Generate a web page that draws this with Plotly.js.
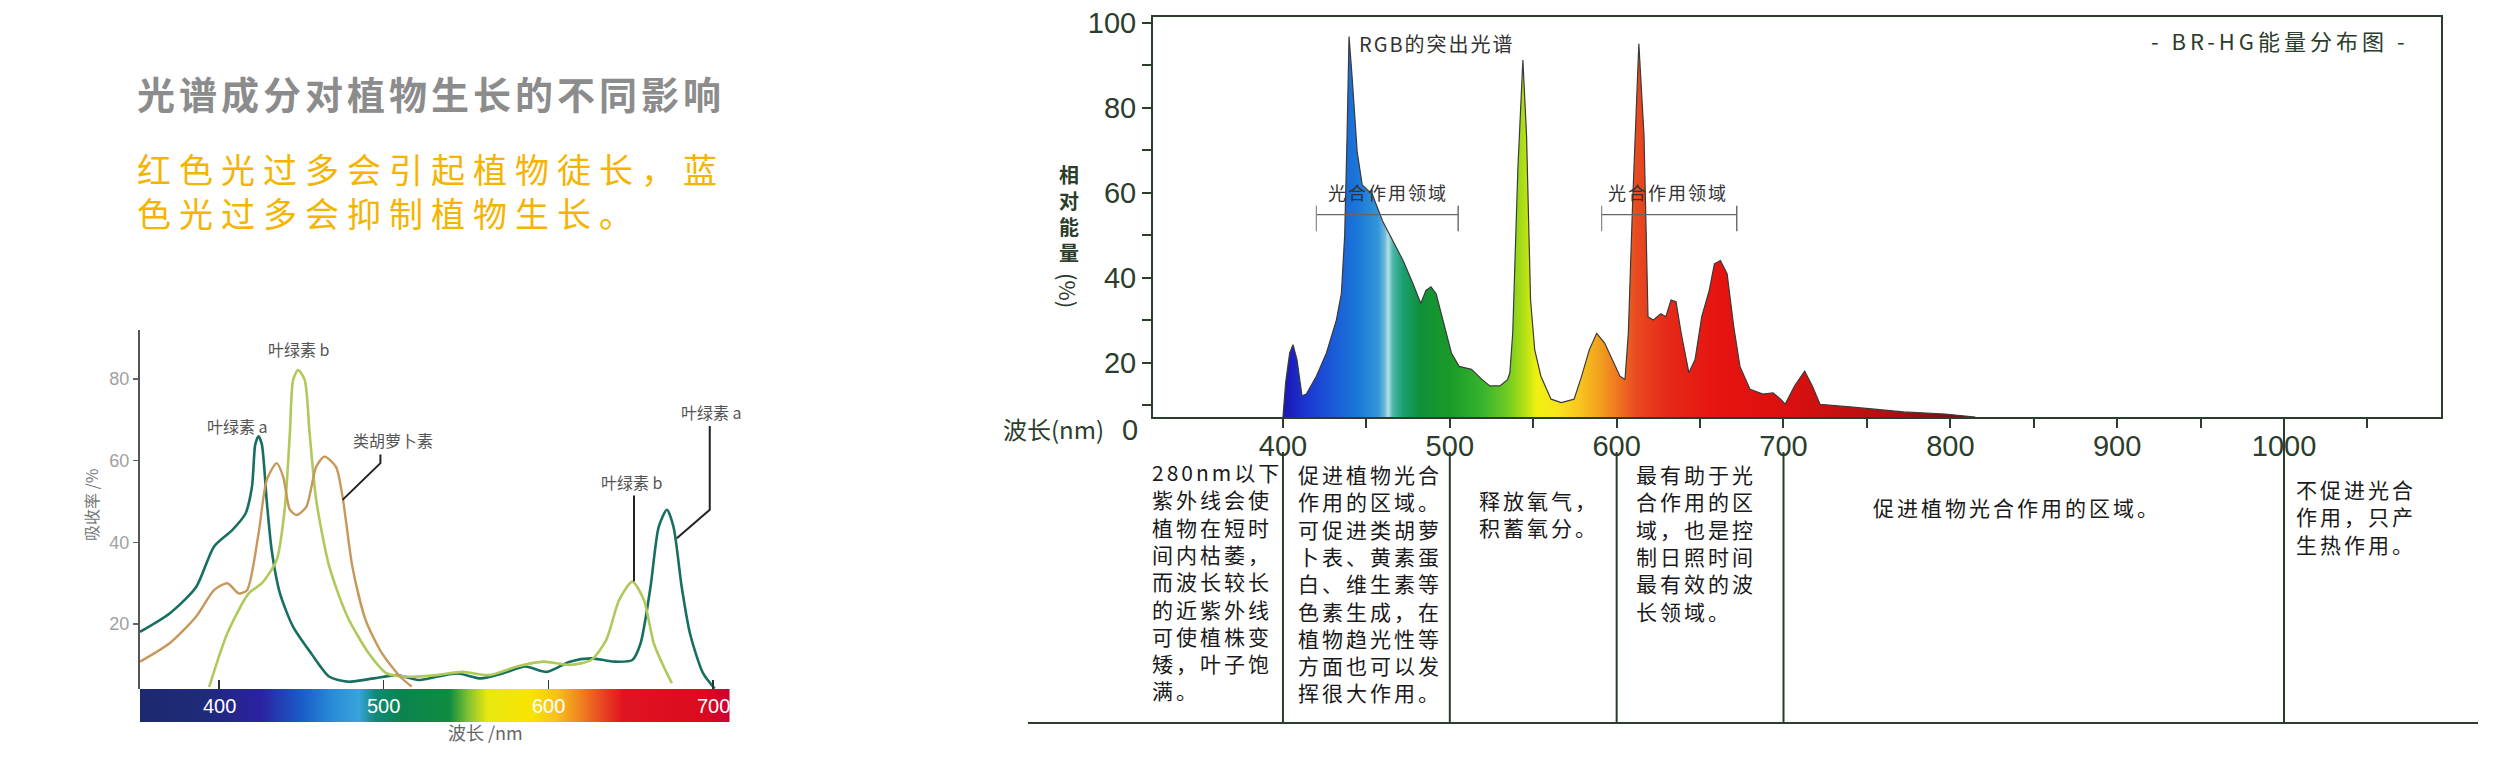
<!DOCTYPE html>
<html>
<head>
<meta charset="utf-8">
<script src="https://cdn.plot.ly/plotly-3.0.1.min.js"></script>
<style>
html,body{margin:0;padding:0;background:#fff;}
#chart{width:2500px;height:776px;}
</style>
</head>
<body>
<div id="chart"></div>
<script>
// ---------------- DATA ----------------
// Left chart: absorption spectra (wavelength nm, absorbance %)
const chlA_nm  = [352,370,386,397,408,416,420,422,424,426,429,432,437,445,456,467,478,494,508,521,532,545,559,572,586,599,613,626,640,651,656,662,667,672,676,681,686,694,701];
const chlA_val = [18.1,22.6,29,39,43,47,53.6,64,66,64,50,38,27.5,19.3,12.8,7.1,5.9,6.7,7.5,6.3,7.1,7.9,6.7,7.9,9.6,8.3,10.8,11.6,10.8,11.2,15.3,29,43.8,48,43.8,29,17.7,7.9,4.2];

const chlB_nm  = [394,405,418,426,435,440,443,445,448,452,455,459,467,478,491,502,516,532,548,564,581,597,613,626,635,643,651,658,664,670,675];
const chlB_val = [4.6,17.7,27.5,30,35.7,48.7,66.7,79.8,82.2,79.8,66.7,50.4,34,21.8,12.8,7.9,7.1,7.5,8.3,7.5,9.6,10.8,10,11.2,16,25.9,30.4,25.9,15.3,9.6,5.5];

const carot_nm  = [352,370,386,397,405,412,417,424,429,435,439,443,447,453,459,464,471,475,481,489,499,510,517];
const carot_val = [10.8,15.3,21.8,28.3,30,27.5,28.3,42.2,55.3,59.4,56,48,46.7,48.7,58.5,61,58.5,51.2,34,21,12.8,7.1,4.7];

const leftYTicks = [20,40,60,80];
const leftBarLabels = [400,500,600,700];
const barNm     = [352,391,425,450,470,485,495,510,540,552,563,590,605,618,632,645,694,710];
const barColors = ['#1b2a6e','#1f2a7a','#2a22a0','#1a5cc8','#2a8ed8','#3aa2dc','#108a78','#0a8450','#0e8c40','#88c430','#e8e810','#f8e400','#f8c020','#f08a20','#e84a20','#e01420','#dc0a20','#cc0030'];

// Right chart: BR-HG relative energy distribution
const spec_nm  = [400,401.6,404,406,408.4,411.4,414,420,426,432,435,437,438.4,439.6,441.4,444.5,447.5,453.6,459.7,465.8,472,478,482.6,485.7,488.7,491.8,496,501,505.6,513,519.4,524,530,534.6,536,537.7,540.8,543.8,546,548.4,550.9,554.6,560.7,566.8,574.5,579,583.6,588,592.8,597.4,602,605,607,609.6,613.3,616.4,618.8,622,626.5,629.5,632.6,635.6,638.7,643.3,647,651,655.5,658.6,662.2,666.2,670.2,673.9,680,687.7,693.7,698.3,701,706.6,712.7,717.3,721.9,741.7,772,796.8,815];
const spec_val = [7.2,15.3,22.2,24.2,20.7,12.2,12.6,16.8,22.2,30,36.2,50,73,96.7,87.4,69.5,61.8,59.5,53.3,48.6,44,38.5,33.9,37,37.8,36.2,30,22.2,19.1,18.4,16,14.5,14.5,16,17.6,26.9,65.7,91.2,73.4,34.7,23,16.8,11.4,10.6,11.4,16.8,23,26.9,24.6,20.7,16.8,16,26.9,57.9,95,73.4,30.8,30,31.5,30.8,34.7,34.3,26.9,17.6,20.7,30.8,37,43.2,44,40.9,28.4,19.1,13.7,12.6,12.9,11.4,10.2,14.5,18,14.5,10.2,9.5,8.4,7.9,7.2];

const gradNm     = [400,415,430,445,457,461,463,466,472,482,500,520,535,545,552,565,578,590,600,612,630,660,700,760,820];
const gradColors = ['#1c14b4','#1a3ad2','#1a5ad8','#1a78d8','#3296d8','#6ab8dc','#b4e0e6','#4ab4a8','#1aa070','#10903a','#1a9a28','#38b42e','#72cc22','#b4e014','#f0f010','#f8e41e','#f8c41e','#f0a01e','#f07820','#e84a20','#e62a18','#e61410','#dc1010','#b41010','#601010'];

const rightXTickVals = [400,450,500,550,600,650,700,750,800,850,900,950,1000,1050];
const rightXTickText = ['400','','500','','600','','700','','800','','900','','1000',''];
const rightYTickVals = [10,20,30,40,50,60,70,80,90,100];
const rightYTickText = ['','20','','40','','60','','80','','100'];

const photoRanges = [[420,505],[591,672]];
const photoLabelNm = [462.8,631];
const tableBounds = [400,500,600,700,1000];

const titleText = '光谱成分对植物生长的不同影响';
const subtitleLines = ['红色光过多会引起植物徒长，蓝','色光过多会抑制植物生长。'];
const yTitleChars = ['相','对','能','量'];

const tableCols = [
  {lines:['280nm以下','紫外线会使','植物在短时','间内枯萎，','而波长较长','的近紫外线','可使植株变','矮，叶子饱','满。'], x:1150, y:470},
  {lines:['促进植物光合','作用的区域。','可促进类胡萝','卜表、黄素蛋','白、维生素等','色素生成，在','植物趋光性等','方面也可以发','挥很大作用。'], x:1296, y:472},
  {lines:['释放氧气，','积蓄氧分。'], x:1477, y:498},
  {lines:['最有助于光','合作用的区','域，也是控','制日照时间','最有效的波','长领域。'], x:1634, y:472},
  {lines:['促进植物光合作用的区域。'], x:1871, y:505},
  {lines:['不促进光合','作用，只产','生热作用。'], x:2294, y:487}
];

// ---------------- HELPERS ----------------
const W = 2500, H = 776;
const px = v => v / W;
const py = v => 1 - v / H;
const CJK = '"Noto Sans CJK SC", "Noto Sans", sans-serif';
const NUM = '"Liberation Sans", Arial, sans-serif';
const DARK = '#2b3d2b';
const ls = (t, s) => '<span style="letter-spacing:' + s + 'px">' + t + '</span>';
const scale = (nm, cols) => nm.map((n, i) => [(n - nm[0]) / (nm[nm.length - 1] - nm[0]), cols[i]]);

// ---------------- TRACES ----------------
const traces = [
  {x: chlA_nm, y: chlA_val, xaxis:'x', yaxis:'y', mode:'lines', hoverinfo:'skip',
   line:{color:'#17705f', width:2.6, shape:'spline', smoothing:0.7}},
  {x: chlB_nm, y: chlB_val, xaxis:'x', yaxis:'y', mode:'lines', hoverinfo:'skip',
   line:{color:'#afc95a', width:2.6, shape:'spline', smoothing:0.7}},
  {x: carot_nm, y: carot_val, xaxis:'x', yaxis:'y', mode:'lines', hoverinfo:'skip',
   line:{color:'#c8975a', width:2.4, shape:'spline', smoothing:0.7}},
  {x: [barNm[0], barNm[barNm.length-1], barNm[barNm.length-1], barNm[0]], y:[0,0,1,1],
   xaxis:'x', yaxis:'y3', mode:'lines', fill:'toself', hoverinfo:'skip', line:{width:0},
   fillgradient:{type:'horizontal', colorscale: scale(barNm, barColors), start: barNm[0], stop: barNm[barNm.length-1]}},
  {x: spec_nm, y: spec_val, xaxis:'x2', yaxis:'y2', mode:'lines', fill:'tozeroy', hoverinfo:'skip',
   line:{color:'#3a3a3a', width:1.2},
   fillgradient:{type:'horizontal', colorscale: scale(gradNm, gradColors), start: gradNm[0], stop: gradNm[gradNm.length-1]}}
];

// ---------------- SHAPES ----------------
const shapes = [];
tableBounds.forEach(b => {
  shapes.push({type:'line', xref:'x2', yref:'paper', x0:b, x1:b, y0:py(723), y1:py(b === 1000 ? 419 : 452),
    line:{color:DARK, width:2}});
});
shapes.push({type:'line', xref:'paper', yref:'paper', x0:px(1028), x1:px(2478), y0:py(723), y1:py(723),
  line:{color:DARK, width:2.2}});
photoRanges.forEach(r => {
  shapes.push({type:'line', xref:'x2', yref:'y2', x0:r[0], x1:r[1], y0:54.8, y1:54.8, line:{color:'#666', width:1.4}});
  shapes.push({type:'line', xref:'x2', yref:'y2', x0:r[0], x1:r[0], y0:50.9, y1:56.9, line:{color:'#888', width:1.2}});
  shapes.push({type:'line', xref:'x2', yref:'y2', x0:r[1], x1:r[1], y0:50.9, y1:56.9, line:{color:'#666', width:1.4}});
});
// leader lines on the left chart
shapes.push({type:'path', xref:'x', yref:'y', path:'M475,50.4 L498,59.4 L498,61.5', line:{color:'#222', width:2}});
shapes.push({type:'path', xref:'x', yref:'y', path:'M652,51.5 L652,30.5', line:{color:'#222', width:2}});
shapes.push({type:'path', xref:'x', yref:'y', path:'M698,68.5 L698,48 L678,41', line:{color:'#222', width:2}});

// ---------------- ANNOTATIONS ----------------
const ann = [];
// title block
ann.push({xref:'paper', yref:'paper', x:px(135), y:py(92), xanchor:'left', yanchor:'middle', showarrow:false,
  text: ls(titleText, 4), font:{family:CJK, size:38, color:'#8c8c8c', weight:700}});
ann.push({xref:'paper', yref:'paper', x:px(135), y:py(190), xanchor:'left', yanchor:'middle', align:'left', showarrow:false,
  text: subtitleLines.map(t => ls(t, 8)).join('<br>'), font:{family:CJK, size:34, color:'#f4b400'}});
// left chart labels
const leftLabels = [
  {t:'叶绿素 b', x:448.6, y:87.3}, {t:'叶绿素 a', x:411.5, y:68.6}, {t:'类胡萝卜素', x:505.6, y:65},
  {t:'叶绿素 b', x:650.8, y:54.9}, {t:'叶绿素 a', x:699.3, y:72}
];
leftLabels.forEach(l => ann.push({xref:'x', yref:'y', x:l.x, y:l.y, showarrow:false, text:l.t,
  font:{family:CJK, size:16, color:'#555'}}));
ann.push({xref:'paper', yref:'paper', x:px(77), y:py(505), textangle:-90, showarrow:false, text:'吸收率 /%',
  font:{family:CJK, size:16, color:'#777'}});
ann.push({xref:'paper', yref:'paper', x:px(446), y:py(747), showarrow:false, text:'波长 /nm',
  font:{family:CJK, size:18, color:'#666'}});
leftBarLabels.forEach(v => ann.push({xref:'x', yref:'y3', x:v, y:0.5, showarrow:false, text:String(v),
  font:{family:NUM, size:20, color:'#ffffff'}}));
// right chart labels
ann.push({xref:'x2', yref:'paper', x:444.4, y:py(43), xanchor:'left', yanchor:'middle', showarrow:false,
  text: ls('RGB的突出光谱', 2), font:{family:CJK, size:20, color:'#333'}});
ann.push({xref:'paper', yref:'paper', x:px(2411), y:py(40), xanchor:'right', yanchor:'middle', showarrow:false,
  text: ls('- BR-HG能量分布图 -', 4), font:{family:CJK, size:22, color:DARK}});
photoLabelNm.forEach(n => ann.push({xref:'x2', yref:'y2', x:n, y:60.2, showarrow:false,
  text: ls('光合作用领域', 2), font:{family:CJK, size:18, color:'#333'}}));
ann.push({xref:'paper', yref:'paper', x:px(1069), y:py(158), yanchor:'top', showarrow:false,
  text: yTitleChars.join('<br>'), font:{family:CJK, size:20, color:DARK, weight:700}});
ann.push({xref:'paper', yref:'paper', x:px(1069), y:py(290), textangle:90, showarrow:false, text:'(%)',
  font:{family:CJK, size:22, color:DARK}});
ann.push({xref:'paper', yref:'paper', x:px(1053), y:py(428), showarrow:false, text:'波长(nm)',
  font:{family:CJK, size:24, color:DARK}});
ann.push({xref:'paper', yref:'paper', x:px(1130), y:py(430), showarrow:false, text:'0',
  font:{family:NUM, size:29, color:DARK}});
// table
tableCols.forEach(c => ann.push({xref:'paper', yref:'paper', x:px(c.x), y:py(c.y - 15), xanchor:'left', yanchor:'top',
  align:'left', showarrow:false, text: c.lines.map(l => ls(l, 3)).join('<br>'),
  font:{family:CJK, size:21, color:'#1a1a1a'}}));

// ---------------- LAYOUT ----------------
const layout = {
  width: W, height: H,
  margin:{l:0, r:0, t:0, b:0, pad:0},
  paper_bgcolor:'#ffffff', plot_bgcolor:'rgba(0,0,0,0)',
  showlegend:false,
  xaxis:{domain:[px(140), px(730)], range:[352, 710.3], anchor:'y', showgrid:false, zeroline:false, showline:false,
    ticks:'inside', tickvals: leftBarLabels, ticklen:9, tickwidth:1.5, tickcolor:'#333', showticklabels:false, fixedrange:true},
  yaxis:{domain:[py(689), py(330)], range:[4.1, 92], anchor:'x', showgrid:false, zeroline:false, showline:true,
    linecolor:'#555', linewidth:2, ticks:'outside', ticklen:5, tickwidth:1.5, tickcolor:'#666',
    tickvals: leftYTicks, tickfont:{family:NUM, size:18, color:'#a0a0a0'}, fixedrange:true},
  yaxis3:{domain:[py(722), py(689)], range:[0,1], anchor:'x', visible:false, fixedrange:true},
  xaxis2:{domain:[px(1153), px(2441)], range:[322.1, 1094.1], anchor:'y2', showgrid:false, zeroline:false,
    showline:true, mirror:true, linecolor:DARK, linewidth:2, ticks:'outside', ticklen:9, tickwidth:2, tickcolor:DARK,
    tickvals: rightXTickVals, ticktext: rightXTickText, tickfont:{family:NUM, size:29, color:DARK},
    ticklabelstandoff:-7, fixedrange:true},
  yaxis2:{domain:[py(417), py(17)], range:[7.2, 101.3], anchor:'x2', showgrid:false, zeroline:false,
    showline:true, mirror:true, linecolor:DARK, linewidth:2, ticks:'outside', ticklen:9, tickwidth:2, tickcolor:DARK,
    tickvals: rightYTickVals, ticktext: rightYTickText, tickfont:{family:NUM, size:29, color:DARK}, fixedrange:true},
  shapes: shapes,
  annotations: ann
};

Plotly.newPlot('chart', traces, layout, {staticPlot:true, displayModeBar:false});
</script>
</body>
</html>
